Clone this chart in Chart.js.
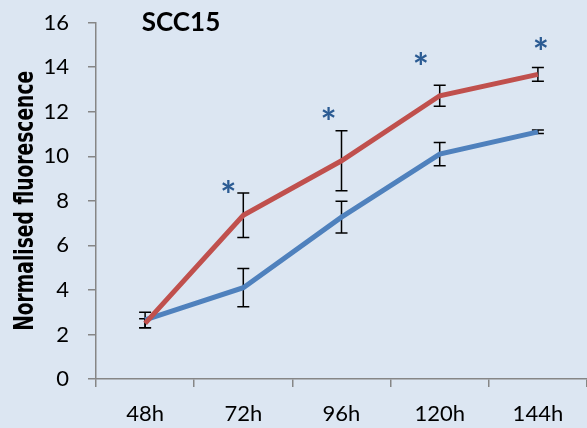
<!DOCTYPE html>
<html>
<head>
<meta charset="utf-8">
<script src="https://cdn.jsdelivr.net/npm/chart.js@4/dist/chart.umd.min.js"></script>
<style>
html,body{margin:0;padding:0;background:#dce6f2;}
#wrap{width:587px;height:428px;position:relative;}
</style>
</head>
<body>
<div id="wrap"><canvas id="c" width="587" height="428"></canvas></div>
<script>
// ---- data ----
const categories = ['48h', '72h', '96h', '120h', '144h'];
const redValues  = [2.5, 7.35, 9.8, 12.72, 13.68];
const redErrors  = [0.2, 1.0, 1.35, 0.47, 0.31];
const blueValues = [2.65, 4.1, 7.27, 10.1, 11.1];
const blueErrors = [0.35, 0.86, 0.71, 0.52, 0.08];
const starLevels = [null, 8.56, 11.84, 14.3, 14.98];
const yTicks = [0, 2, 4, 6, 8, 10, 12, 14, 16];
const chartTitle = 'SCC15';
const yTitle = 'Normalised fluorescence';

const FONT = 'Lato, "Open Sans", sans-serif';
const starDx = [0, -15, -13, -19, 3];

const errorBars = {
  id: 'errorBars',
  beforeDatasetsDraw(chart) {
    const ctx = chart.ctx, y = chart.scales.y, x = chart.scales.x;
    const sets = [[redValues, redErrors], [blueValues, blueErrors]];
    ctx.save();
    ctx.strokeStyle = '#000';
    ctx.lineWidth = 1.5;
    sets.forEach(([vals, errs]) => {
      vals.forEach((v, i) => {
        const px = x.getPixelForValue(i);
        const top = y.getPixelForValue(v + errs[i]);
        const bot = y.getPixelForValue(v - errs[i]);
        ctx.beginPath();
        ctx.moveTo(px, top); ctx.lineTo(px, bot);
        ctx.moveTo(px - 6, top); ctx.lineTo(px + 6, top);
        ctx.moveTo(px - 6, bot); ctx.lineTo(px + 6, bot);
        ctx.stroke();
      });
    });
    ctx.restore();
  }
};

const annotations = {
  id: 'annotations',
  afterDatasetsDraw(chart) {
    const ctx = chart.ctx, y = chart.scales.y, x = chart.scales.x, ca = chart.chartArea;
    ctx.save();
    ctx.fillStyle = '#2b5b93';
    ctx.font = 'bold 38px ' + FONT;
    ctx.textAlign = 'center';
    ctx.textBaseline = 'middle';
    starLevels.forEach((lv, i) => {
      if (lv === null) return;
      ctx.fillText('*', x.getPixelForValue(i) + starDx[i], y.getPixelForValue(lv) + 8);
    });
    ctx.fillStyle = '#000';
    ctx.font = 'bold 26px ' + FONT;
    ctx.fillText(chartTitle, ca.left + 85, ca.top);
    // y axis title, condensed along its length
    ctx.font = 'bold 27px "DejaVu Sans", sans-serif';
    const w = ctx.measureText(yTitle).width;
    const target = 260;
    ctx.translate(33, (ca.top + ca.bottom) / 2);
    ctx.rotate(-Math.PI / 2);
    ctx.scale(target / w, 1);
    ctx.textBaseline = 'alphabetic';
    ctx.fillText(yTitle, 0, 0);
    ctx.restore();
  }
};

new Chart(document.getElementById('c'), {
  type: 'line',
  data: {
    labels: categories,
    datasets: [
      { data: redValues, borderColor: '#c0504d', borderWidth: 5, pointRadius: 0, tension: 0, fill: false },
      { data: blueValues, borderColor: '#4f81bd', borderWidth: 5, pointRadius: 0, tension: 0, fill: false }
    ]
  },
  options: {
    responsive: false,
    animation: false,
    events: [],
    layout: { padding: { top: 22.7, right: 0, left: 0, bottom: 0 } },
    plugins: { legend: { display: false }, tooltip: { enabled: false }, title: { display: false } },
    scales: {
      x: {
        type: 'category',
        offset: true,
        grid: { offset: true, drawOnChartArea: false, drawTicks: true, tickLength: 8, color: '#868686', lineWidth: 1.5 },
        border: { color: '#868686', width: 1.5 },
        ticks: { color: '#000', font: { family: FONT, size: 22 }, padding: 14, maxRotation: 0 },
        afterFit(s) { s.height = 49; s.paddingLeft = 0; s.paddingRight = 0; }
      },
      y: {
        min: 0, max: 16,
        afterBuildTicks(s) { s.ticks = yTicks.map(v => ({ value: v })); },
        grid: { drawOnChartArea: false, drawTicks: true, tickLength: 8, color: '#868686', lineWidth: 1.5 },
        border: { color: '#868686', width: 1.5 },
        ticks: { color: '#000', font: { family: FONT, size: 22 }, padding: 19 },
        title: { display: false },
        afterFit(s) { s.width = 96; s.paddingTop = 0; s.paddingBottom = 0; }
      }
    }
  },
  plugins: [errorBars, annotations]
});
</script>
</body>
</html>
